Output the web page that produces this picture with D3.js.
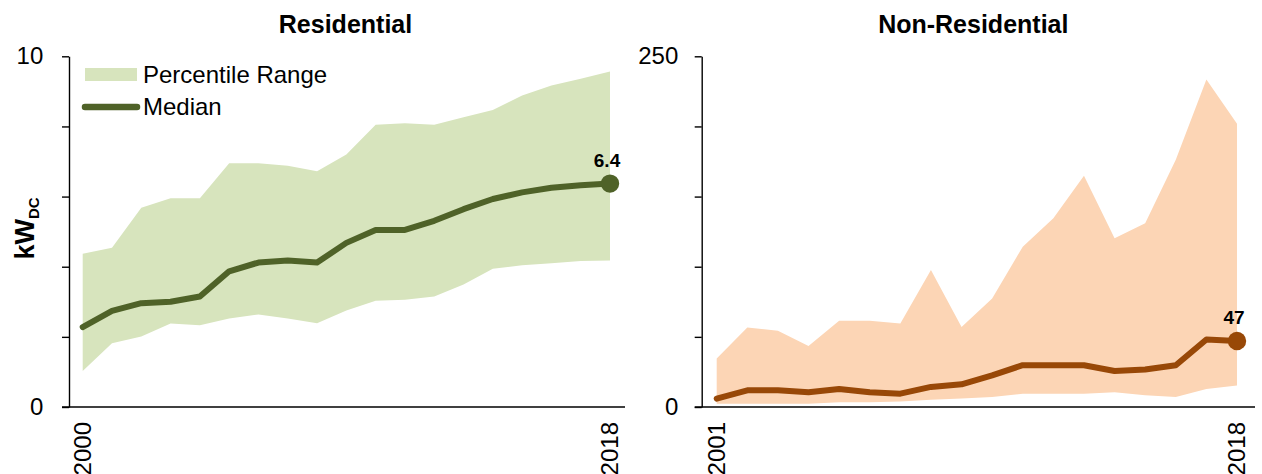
<!DOCTYPE html>
<html>
<head>
<meta charset="utf-8">
<script src="https://cdn.jsdelivr.net/npm/d3@7"></script>
<style>
  html, body { margin: 0; padding: 0; background: #fff; }
  svg { display: block; font-family: "Liberation Sans", Arial, sans-serif; }
</style>
</head>
<body>
<svg id="chart" width="1262" height="474"></svg>
<script>
// ---------- data ----------
const resYears = d3.range(2000, 2019);
const resUpper  = [4.37, 4.54, 5.68, 5.95, 5.95, 6.95, 6.95, 6.88, 6.72, 7.2, 8.05, 8.09, 8.05, 8.26, 8.47, 8.88, 9.17, 9.36, 9.57];
const resMedian = [2.28, 2.74, 2.96, 3.00, 3.15, 3.87, 4.12, 4.18, 4.12, 4.68, 5.05, 5.05, 5.31, 5.64, 5.93, 6.12, 6.25, 6.32, 6.37];
const resLower  = [1.03, 1.82, 2.01, 2.38, 2.33, 2.52, 2.64, 2.52, 2.39, 2.75, 3.03, 3.06, 3.15, 3.49, 3.94, 4.04, 4.10, 4.16, 4.18];

const nonYears = d3.range(2001, 2019);
const nonUpper  = [34.6, 56.7, 54.3, 43.4, 61.4, 61.4, 59.6, 97.6, 57.1, 77.4, 114.3, 134.6, 164.8, 120.3, 131.0, 176.2, 233.4, 201.9];
const nonMedian = [6.0, 11.9, 11.9, 10.5, 12.9, 10.5, 9.5, 14.3, 16.2, 22.6, 29.8, 29.8, 29.8, 25.7, 26.7, 29.8, 48.1, 47.1];
const nonLower  = [2.4, 2.4, 2.4, 2.4, 3.4, 3.4, 4.0, 5.2, 6.0, 7.1, 9.5, 9.5, 9.5, 10.5, 8.4, 7.1, 12.9, 15.3];

const titles = ["Residential", "Non-Residential"];
const resTicks = [0, 2, 4, 6, 8, 10];
const nonTicks = [0, 50, 100, 150, 200, 250];
const resEndLabel = "6.4";
const nonEndLabel = "47";
const legendLabels = ["Percentile Range", "Median"];
const yAxisTitle = ["kW", "DC"];

// ---------- layout ----------
const svg = d3.select("#chart");
const FONT = "'Liberation Sans', Arial, sans-serif";

const panels = [
  { title: titles[0], years: resYears, upper: resUpper, median: resMedian, lower: resLower,
    ticks: resTicks, max: 10, label: resEndLabel,
    axisX: 69, xStart: 82.7, xEnd: 610, baseEnd: 625, titleX: 345.5, pad: 18.7,
    fill: "#d7e4bd", stroke: "#4f6228" },
  { title: titles[1], years: nonYears, upper: nonUpper, median: nonMedian, lower: nonLower,
    ticks: nonTicks, max: 250, label: nonEndLabel,
    axisX: 701.7, xStart: 716.7, xEnd: 1237, baseEnd: 1255, titleX: 973.3, pad: 16.4,
    fill: "#fcd5b5", stroke: "#984807" }
];

const yTop = 56.3, yBottom = 407;

panels.forEach((p, pi) => {
  const g = svg.append("g");
  const x = d3.scaleLinear().domain([p.years[0], p.years[p.years.length - 1]]).range([p.xStart, p.xEnd]);
  const y = d3.scaleLinear().domain([0, p.max]).range([yBottom, yTop]);
  const rows = p.years.map((yr, i) => ({ yr, hi: p.upper[i], mid: p.median[i], lo: p.lower[i] }));

  // area
  g.append("path")
    .datum(rows)
    .attr("fill", p.fill)
    .attr("d", d3.area().x(d => x(d.yr)).y0(d => y(d.lo)).y1(d => y(d.hi)));

  // median line
  g.append("path")
    .datum(rows)
    .attr("fill", "none")
    .attr("stroke", p.stroke)
    .attr("stroke-width", 6)
    .attr("stroke-linejoin", "round")
    .attr("stroke-linecap", "round")
    .attr("d", d3.line().x(d => x(d.yr)).y(d => y(d.mid)));

  // end dot
  const last = rows[rows.length - 1];
  g.append("circle")
    .attr("cx", x(last.yr)).attr("cy", y(last.mid)).attr("r", 9.2)
    .attr("fill", p.stroke);
  g.append("text")
    .attr("x", x(last.yr) - 3).attr("y", y(last.mid) - 17)
    .attr("text-anchor", "middle")
    .attr("font-family", FONT).attr("font-size", 19).attr("font-weight", "bold")
    .attr("fill", "#000")
    .text(p.label);

  // y axis
  const yAxis = d3.axisLeft(y)
    .tickValues(p.ticks)
    .tickSize(7)
    .tickSizeOuter(0)
    .tickPadding(p.pad)
    .tickFormat(d => (d === 0 || d === p.max) ? d3.format("d")(d) : "");
  const ay = g.append("g").attr("transform", `translate(${p.axisX},0)`).call(yAxis);
  ay.select(".domain").attr("stroke", "#000").attr("stroke-width", 1.4);
  ay.selectAll(".tick line").attr("stroke", "#000").attr("stroke-width", 1.4);
  ay.selectAll(".tick text")
    .attr("font-family", FONT).attr("font-size", 24).attr("fill", "#000");

  // x baseline
  g.append("line")
    .attr("x1", p.axisX - 7).attr("x2", p.baseEnd)
    .attr("y1", y(0)).attr("y2", y(0))
    .attr("stroke", "#000").attr("stroke-width", 1.4);

  // x labels (first & last)
  const ends = [p.years[0], p.years[p.years.length - 1]];
  g.selectAll(".xl").data(ends).enter().append("text")
    .attr("transform", d => `translate(${x(d)},${y(0) + 15}) rotate(-90)`)
    .attr("text-anchor", "end")
    .attr("dy", "0.35em")
    .attr("font-family", FONT).attr("font-size", 24).attr("fill", "#000")
    .text(d => d);

  // title
  g.append("text")
    .attr("x", p.titleX).attr("y", 33.3)
    .attr("text-anchor", "middle")
    .attr("font-family", FONT).attr("font-size", 25).attr("font-weight", "bold")
    .attr("fill", "#000")
    .text(p.title);

  // legend (left panel only)
  if (pi === 0) {
    const lg = svg.append("g");
    lg.append("rect").attr("x", 85).attr("y", 68).attr("width", 52).attr("height", 13).attr("fill", p.fill);
    lg.append("line").attr("x1", 85).attr("x2", 137).attr("y1", 107).attr("y2", 107)
      .attr("stroke", p.stroke).attr("stroke-width", 6.5).attr("stroke-linecap", "round");
    lg.append("text").attr("x", 143).attr("y", 82.7)
      .attr("font-family", FONT).attr("font-size", 24).attr("fill", "#000").text(legendLabels[0]);
    lg.append("text").attr("x", 143).attr("y", 115)
      .attr("font-family", FONT).attr("font-size", 24).attr("fill", "#000").text(legendLabels[1]);
  }
});

// y axis title
const yt = svg.append("text")
  .attr("transform", "translate(34,228.5) rotate(-90)")
  .attr("text-anchor", "middle")
  .attr("font-family", FONT).attr("font-weight", "bold").attr("fill", "#000");
yt.append("tspan").attr("font-size", 27).text(yAxisTitle[0]);
yt.append("tspan").attr("font-size", 15).attr("dy", 5).text(yAxisTitle[1]);
</script>
</body>
</html>
